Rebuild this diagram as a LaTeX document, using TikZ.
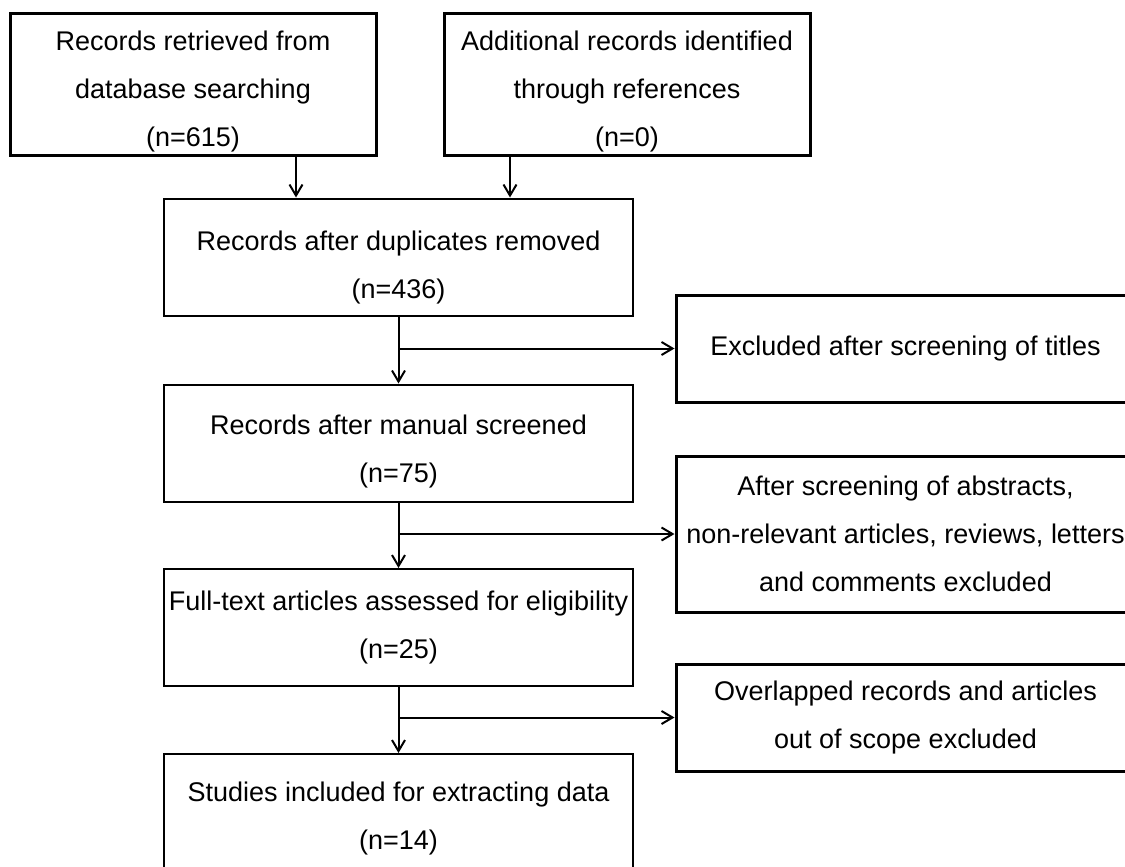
\documentclass[tikz,border=0pt]{standalone}
\usepackage{fontspec}
\setmainfont{Liberation Sans}
\usetikzlibrary{arrows.meta}
% taller first line, pushes the text block down a little
\newcommand{\lowr}[1]{\rule{0pt}{#1}}

\begin{document}
\begin{tikzpicture}[x=0.5pt, y=-0.5pt,
    box/.style={draw, line width=1pt, align=center, inner sep=0pt,
        font=\fontsize{13.5}{24}\selectfont},
    topbox/.style={box, line width=1.5pt, minimum width=183pt, minimum height=71pt},
    midbox/.style={box, minimum width=234.5pt, minimum height=58.5pt},
    sidebox/.style={box, line width=1.5pt, minimum width=229.5pt, minimum height=53.5pt},
    arr/.style={line width=1pt, -{Straight Barb[length=5.5pt, width=6.5pt]}}]
    \useasboundingbox (0,0) rectangle (1125,867);
    \clip (0,0) rectangle (1125,867);
    % main column
    \node[topbox] (search) at (193,84) {\lowr{16.8pt}Records retrieved from\\database searching\\(n=615)};
    \node[topbox] (refs) at (627,84) {\lowr{16.8pt}Additional records identified\\through references\\(n=0)};
    \node[midbox] (dupl) at (398.5,257) {\lowr{19.8pt}Records after duplicates removed\\(n=436)};
    \node[midbox] (manual) at (398.5,443) {\lowr{17.8pt}Records after manual screened\\(n=75)};
    \node[midbox] (fulltext) at (398.5,627.5) {Full-text articles assessed for eligibility\\(n=25)};
    \node[midbox] (included) at (398.5,812.5) {\lowr{15.8pt}Studies included for extracting data\\(n=14)};
    % exclusions on the right
    \node[sidebox] (titles) at (905.5,348.5) {Excluded after screening of titles};
    \node[sidebox, minimum height=78pt] (abstracts) at (905.5,534) {After screening of abstracts,\\non-relevant articles, reviews, letters\\and comments excluded};
    \node[sidebox] (overlap) at (905.5,717.5) {Overlapped records and articles\\out of scope excluded};

    \draw[arr] (search.south -| 296,0) -- (dupl.north -| 296,0);
    \draw[arr] (refs.south -| 510,0) -- (dupl.north -| 510,0);
    \draw[arr] (dupl.south) -- (manual.north);
    \draw[arr] (manual.south) -- (fulltext.north);
    \draw[arr] (fulltext.south) -- (included.north);
    \draw[arr] (titles.west -| dupl.south) -- (titles.west);
    \draw[arr] (abstracts.west -| manual.south) -- (abstracts.west);
    \draw[arr] (overlap.west -| fulltext.south) -- (overlap.west);
\end{tikzpicture}
\end{document}
